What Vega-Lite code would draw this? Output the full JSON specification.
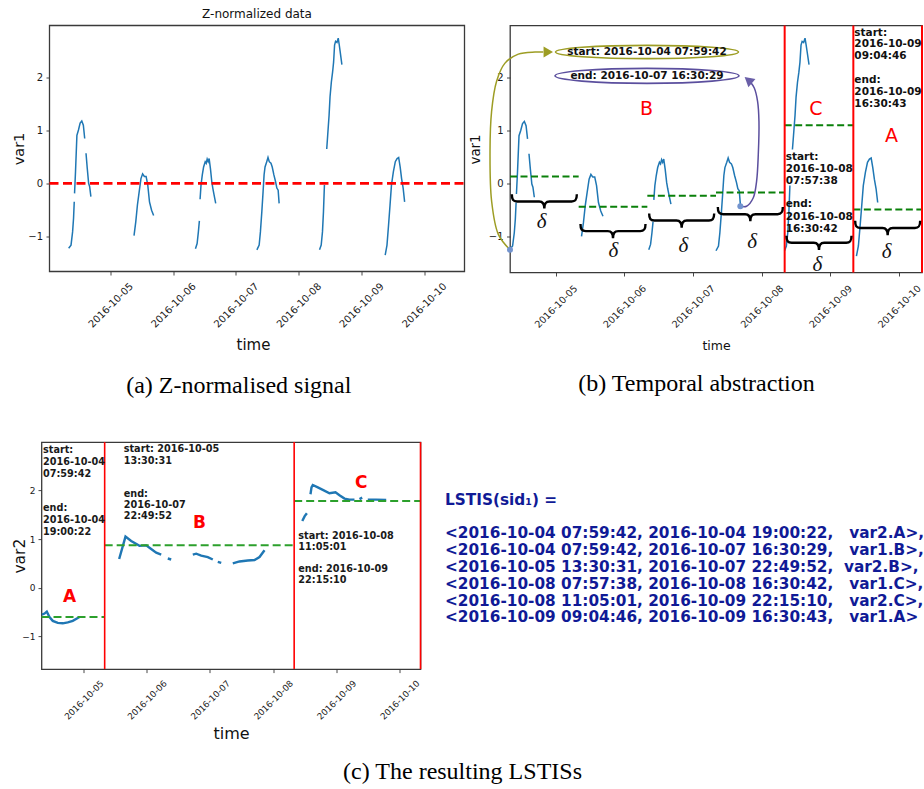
{
 "$schema": "https://vega.github.io/schema/vega-lite/v6.json",
 "background": "white",
 "padding": {"left": 11.5, "top": 7.5, "right": 0, "bottom": 0},
 "config": {
  "font": "DejaVu Sans",
  "view": {"stroke": "#3a3a3a", "strokeWidth": 1.3},
  "axis": {"grid": false, "domain": false, "tickSize": 3.5, "tickColor": "#333333", "tickWidth": 0.9, "labelColor": "#1a1a1a", "titleColor": "#111111", "titleFontWeight": "normal", "labelFont": "DejaVu Sans", "titleFont": "DejaVu Sans"},
  "title": {"font": "DejaVu Sans", "fontWeight": "normal", "color": "#111111"}
 },
 "datasets": {
  "v1": [
   {"t":"2016-10-04T07:59:42","v":-1.23,"s":"1a"},{"t":"2016-10-04T08:54","v":-1.17,"s":"1a"},{"t":"2016-10-04T09:30","v":-0.92,"s":"1a"},{"t":"2016-10-04T09:52","v":-0.66,"s":"1a"},{"t":"2016-10-04T10:08","v":-0.35,"s":"1a"},
   {"t":"2016-10-04T10:15","v":-0.19,"s":"1b"},{"t":"2016-10-04T10:37","v":0.22,"s":"1b"},{"t":"2016-10-04T11:09","v":0.91,"s":"1b"},{"t":"2016-10-04T11:45","v":1.01,"s":"1b"},{"t":"2016-10-04T12:23","v":1.14,"s":"1b"},{"t":"2016-10-04T13:01","v":1.18,"s":"1b"},{"t":"2016-10-04T13:37","v":1.10,"s":"1b"},{"t":"2016-10-04T14:08","v":0.85,"s":"1b"},
   {"t":"2016-10-04T14:38","v":0.57,"s":"1c"},{"t":"2016-10-04T15:07","v":0.28,"s":"1c"},{"t":"2016-10-04T15:38","v":0.0,"s":"1c"},{"t":"2016-10-04T16:01","v":-0.06,"s":"1c"},{"t":"2016-10-04T16:30","v":-0.25,"s":"1c"},
   {"t":"2016-10-05T09:00","v":-0.99,"s":"2"},{"t":"2016-10-05T09:40","v":-0.73,"s":"2"},{"t":"2016-10-05T10:18","v":-0.41,"s":"2"},{"t":"2016-10-05T10:58","v":-0.16,"s":"2"},{"t":"2016-10-05T11:39","v":0.09,"s":"2"},{"t":"2016-10-05T12:17","v":0.18,"s":"2"},{"t":"2016-10-05T12:57","v":0.13,"s":"2"},{"t":"2016-10-05T13:37","v":0.13,"s":"2"},{"t":"2016-10-05T14:15","v":-0.03,"s":"2"},{"t":"2016-10-05T14:55","v":-0.35,"s":"2"},{"t":"2016-10-05T15:43","v":-0.51,"s":"2"},{"t":"2016-10-05T16:30","v":-0.61,"s":"2"},
   {"t":"2016-10-06T08:30","v":-1.24,"s":"3a"},{"t":"2016-10-06T09:08","v":-1.14,"s":"3a"},{"t":"2016-10-06T09:37","v":-0.92,"s":"3a"},{"t":"2016-10-06T10:00","v":-0.71,"s":"3a"},
   {"t":"2016-10-06T10:16","v":-0.30,"s":"3b"},{"t":"2016-10-06T10:38","v":-0.03,"s":"3b"},{"t":"2016-10-06T11:07","v":0.16,"s":"3b"},{"t":"2016-10-06T11:37","v":0.31,"s":"3b"},{"t":"2016-10-06T12:14","v":0.41,"s":"3b"},{"t":"2016-10-06T12:37","v":0.38,"s":"3b"},{"t":"2016-10-06T12:59","v":0.46,"s":"3b"},{"t":"2016-10-06T13:22","v":0.41,"s":"3b"},{"t":"2016-10-06T13:44","v":0.47,"s":"3b"},{"t":"2016-10-06T14:14","v":0.28,"s":"3b"},{"t":"2016-10-06T14:45","v":0.03,"s":"3b"},{"t":"2016-10-06T15:08","v":-0.09,"s":"3b"},{"t":"2016-10-06T15:37","v":-0.22,"s":"3b"},{"t":"2016-10-06T16:15","v":-0.38,"s":"3b"},
   {"t":"2016-10-07T08:00","v":-1.26,"s":"4"},{"t":"2016-10-07T08:52","v":-1.17,"s":"4"},{"t":"2016-10-07T09:21","v":-0.92,"s":"4"},{"t":"2016-10-07T09:53","v":-0.54,"s":"4"},{"t":"2016-10-07T10:22","v":-0.16,"s":"4"},{"t":"2016-10-07T10:45","v":0.16,"s":"4"},{"t":"2016-10-07T11:07","v":0.31,"s":"4"},{"t":"2016-10-07T11:46","v":0.41,"s":"4"},{"t":"2016-10-07T12:15","v":0.49,"s":"4"},{"t":"2016-10-07T12:44","v":0.41,"s":"4"},{"t":"2016-10-07T13:23","v":0.38,"s":"4"},{"t":"2016-10-07T13:52","v":0.31,"s":"4"},{"t":"2016-10-07T14:30","v":0.16,"s":"4"},{"t":"2016-10-07T15:09","v":0.03,"s":"4"},{"t":"2016-10-07T15:38","v":-0.09,"s":"4"},{"t":"2016-10-07T16:08","v":-0.13,"s":"4"},{"t":"2016-10-07T16:30:29","v":-0.38,"s":"4"},
   {"t":"2016-10-08T07:57:38","v":-1.26,"s":"5a"},{"t":"2016-10-08T08:36","v":-1.17,"s":"5a"},{"t":"2016-10-08T09:05","v":-0.92,"s":"5a"},{"t":"2016-10-08T09:28","v":-0.54,"s":"5a"},{"t":"2016-10-08T09:50","v":-0.03,"s":"5a"},
   {"t":"2016-10-08T10:43","v":0.65,"s":"5b"},{"t":"2016-10-08T11:05","v":0.91,"s":"5b"},{"t":"2016-10-08T11:37","v":1.29,"s":"5b"},{"t":"2016-10-08T11:59","v":1.64,"s":"5b"},{"t":"2016-10-08T12:29","v":1.92,"s":"5b"},{"t":"2016-10-08T12:58","v":2.11,"s":"5b"},{"t":"2016-10-08T13:21","v":2.30,"s":"5b"},{"t":"2016-10-08T13:43","v":2.62,"s":"5b"},{"t":"2016-10-08T14:06","v":2.69,"s":"5b"},{"t":"2016-10-08T14:38","v":2.67,"s":"5b"},{"t":"2016-10-08T15:07","v":2.75,"s":"5b"},{"t":"2016-10-08T15:29","v":2.63,"s":"5b"},{"t":"2016-10-08T15:52","v":2.49,"s":"5b"},{"t":"2016-10-08T16:30:42","v":2.25,"s":"5b"},
   {"t":"2016-10-09T09:04:46","v":-1.36,"s":"6"},{"t":"2016-10-09T09:46","v":-1.17,"s":"6"},{"t":"2016-10-09T10:22","v":-0.79,"s":"6"},{"t":"2016-10-09T10:56","v":-0.41,"s":"6"},{"t":"2016-10-09T11:29","v":-0.03,"s":"6"},{"t":"2016-10-09T12:13","v":0.22,"s":"6"},{"t":"2016-10-09T12:57","v":0.41,"s":"6"},{"t":"2016-10-09T13:38","v":0.47,"s":"6"},{"t":"2016-10-09T14:14","v":0.49,"s":"6"},{"t":"2016-10-09T14:48","v":0.31,"s":"6"},{"t":"2016-10-09T15:21","v":0.09,"s":"6"},{"t":"2016-10-09T15:57","v":-0.09,"s":"6"},{"t":"2016-10-09T16:30:43","v":-0.35,"s":"6"}
  ],
  "v2": [
   {"t":"2016-10-04T08:10","v":-0.55,"s":"A"},{"t":"2016-10-04T09:08","v":-0.53,"s":"A"},{"t":"2016-10-04T10:01","v":-0.49,"s":"A"},{"t":"2016-10-04T11:02","v":-0.60,"s":"A"},{"t":"2016-10-04T12:17","v":-0.68,"s":"A"},{"t":"2016-10-04T14:11","v":-0.72,"s":"A"},{"t":"2016-10-04T16:05","v":-0.73,"s":"A"},{"t":"2016-10-04T17:59","v":-0.71,"s":"A"},{"t":"2016-10-04T19:53","v":-0.68,"s":"A"},{"t":"2016-10-04T21:47","v":-0.62,"s":"A"},{"t":"2016-10-04T22:26","v":-0.60,"s":"A"},
   {"t":"2016-10-05T13:30:31","v":0.59,"s":"B1"},{"t":"2016-10-05T15:55","v":1.05,"s":"B1"},{"t":"2016-10-05T18:05","v":0.96,"s":"B1"},{"t":"2016-10-05T21:14","v":0.86,"s":"B1"},{"t":"2016-10-05T23:47","v":0.87,"s":"B1"},{"t":"2016-10-06T01:02","v":0.82,"s":"B1"},{"t":"2016-10-06T03:35","v":0.72,"s":"B1"},{"t":"2016-10-06T05:29","v":0.68,"s":"B1"},
   {"t":"2016-10-06T07:59","v":0.60,"s":"B2"},{"t":"2016-10-06T09:17","v":0.58,"s":"B2"},
   {"t":"2016-10-06T17:29","v":0.68,"s":"B3"},{"t":"2016-10-06T18:47","v":0.70,"s":"B3"},{"t":"2016-10-06T20:41","v":0.66,"s":"B3"},{"t":"2016-10-06T23:11","v":0.63,"s":"B3"},{"t":"2016-10-07T01:05","v":0.58,"s":"B3"},
   {"t":"2016-10-07T02:59","v":0.53,"s":"B4"},{"t":"2016-10-07T04:17","v":0.51,"s":"B4"},
   {"t":"2016-10-07T08:41","v":0.50,"s":"B5"},{"t":"2016-10-07T11:14","v":0.54,"s":"B5"},{"t":"2016-10-07T14:23","v":0.56,"s":"B5"},{"t":"2016-10-07T16:56","v":0.57,"s":"B5"},{"t":"2016-10-07T18:50","v":0.63,"s":"B5"},{"t":"2016-10-07T20:44","v":0.77,"s":"B5"},
   {"t":"2016-10-08T11:05:01","v":1.37,"s":"C1"},{"t":"2016-10-08T12:00","v":1.47,"s":"C1"},{"t":"2016-10-08T12:50","v":1.53,"s":"C1"},
   {"t":"2016-10-08T14:12","v":1.92,"s":"C2"},{"t":"2016-10-08T14:35","v":2.06,"s":"C2"},{"t":"2016-10-08T15:05","v":2.11,"s":"C2"},{"t":"2016-10-08T16:59","v":2.06,"s":"C2"},{"t":"2016-10-08T18:53","v":2.01,"s":"C2"},{"t":"2016-10-08T21:25","v":1.94,"s":"C2"},{"t":"2016-10-08T23:42","v":1.96,"s":"C2"},{"t":"2016-10-09T01:13","v":1.90,"s":"C2"},{"t":"2016-10-09T03:07","v":1.83,"s":"C2"},{"t":"2016-10-09T05:01","v":1.81,"s":"C2"},{"t":"2016-10-09T06:55","v":1.81,"s":"C2"},
   {"t":"2016-10-09T08:49","v":1.82,"s":"C3"},{"t":"2016-10-09T09:51","v":1.85,"s":"C3"},
   {"t":"2016-10-09T11:58","v":1.81,"s":"C4"},{"t":"2016-10-09T15:10","v":1.81,"s":"C4"},{"t":"2016-10-09T18:58","v":1.80,"s":"C4"}
  ]
 },
 "spacing": 41.6,
 "vconcat": [
  {
   "spacing": 0.5,
   "hconcat": [
    {
     "title": {"text": "(a) Z-normalised signal", "orient": "bottom", "anchor": "middle", "font": "Liberation Serif", "fontSize": 24, "fontWeight": "normal", "color": "#000000", "offset": 21.5},
     "vconcat": [
      {
       "width": 423, "height": 246,
       "view": {"stroke": null},
       "title": {"text": "Z-normalized data", "fontSize": 12, "offset": 4, "frame": "group", "anchor": "middle", "dx": 4},
       "layer": [
        {
         "data": {"values": [{"t":"2016-10-04T00:40","t2":"2016-10-10T15:25","v":-1.67,"v2":2.99}]},
         "mark": {"type": "rect", "filled": false, "color": "#3a3a3a", "strokeWidth": 1.3},
         "encoding": {
          "x": {"field": "t", "type": "temporal", "scale": {"domain": [{"year":2016,"month":10,"date":3,"hours":21,"minutes":36,"seconds":24},{"year":2016,"month":10,"date":10,"hours":15,"minutes":25}]},
                "axis": {"title": "time", "values": [{"year":2016,"month":10,"date":5},{"year":2016,"month":10,"date":6},{"year":2016,"month":10,"date":7},{"year":2016,"month":10,"date":8},{"year":2016,"month":10,"date":9},{"year":2016,"month":10,"date":10}], "format": "%Y-%m-%d", "labelAngle": -45, "labelAlign": "center", "labelBaseline": "middle", "labelPadding": 30, "labelFontSize": 10, "labelOverlap": false, "labelFlush": false, "titleFontSize": 15, "titlePadding": 8}},
          "x2": {"field": "t2"},
          "y": {"field": "v", "type": "quantitative", "scale": {"domain": [-1.67, 2.99], "nice": false, "zero": false},
                "axis": {"title": "var1", "values": [-1, 0, 1, 2], "format": "d", "offset": -8, "labelFontSize": 10, "labelPadding": 3.5, "titleFontSize": 14.5, "titlePadding": 1}},
          "y2": {"field": "v2"}
         }
        },
        {
         "data": {"name": "v1"},
         "mark": {"type": "line", "color": "#1f77b4", "strokeWidth": 1.5},
         "encoding": {
          "x": {"field": "t", "type": "temporal"},
          "y": {"field": "v", "type": "quantitative"},
          "detail": {"field": "s", "type": "nominal"}
         }
        },
        {
         "data": {"values": [{"t":"2016-10-04T00:40","t2":"2016-10-10T15:25","v":0}]},
         "mark": {"type": "rule", "color": "#ff0000", "strokeWidth": 2.6, "strokeDash": [9, 4.5]},
         "encoding": {"x": {"field": "t", "type": "temporal"}, "x2": {"field": "t2"}, "y": {"field": "v", "type": "quantitative"}}
        }
       ]
      }
     ]
    },
    {
     "title": {"text": "(b) Temporal abstraction", "orient": "bottom", "anchor": "middle", "font": "Liberation Serif", "fontSize": 24, "fontWeight": "normal", "color": "#000000", "offset": 19},
     "vconcat": [
      {
       "width": 412, "height": 247,
       "layer": [
        {
         "data": {"name": "v1"},
         "mark": {"type": "line", "color": "#1f77b4", "strokeWidth": 1.5},
         "encoding": {
          "x": {"field": "t", "type": "temporal", "scale": {"domain": [{"year":2016,"month":10,"date":4,"hours":8},{"year":2016,"month":10,"date":10,"hours":8}]},
                "axis": {"title": "time", "values": [{"year":2016,"month":10,"date":5},{"year":2016,"month":10,"date":6},{"year":2016,"month":10,"date":7},{"year":2016,"month":10,"date":8},{"year":2016,"month":10,"date":9},{"year":2016,"month":10,"date":10}], "format": "%Y-%m-%d", "labelAngle": -45, "labelAlign": "center", "labelBaseline": "middle", "labelPadding": 30.2, "labelFontSize": 9.6, "labelOverlap": false, "labelFlush": false, "titleFontSize": 12.5, "titlePadding": 10.3}},
          "y": {"field": "v", "type": "quantitative", "scale": {"domain": [-1.67, 2.99], "nice": false, "zero": false},
                "axis": {"title": "var1", "values": [-1, 0, 1, 2], "format": "d", "labelFontSize": 10, "labelPadding": 3.5, "titleFontSize": 13.3, "titlePadding": 6.2}},
          "detail": {"field": "s", "type": "nominal"}
         }
        },
        {
         "data": {"values": [
          {"t":"2016-10-04T08:00","t2":"2016-10-05T08:00","v":0.14},
          {"t":"2016-10-05T08:00","t2":"2016-10-06T08:00","v":-0.43},
          {"t":"2016-10-06T08:00","t2":"2016-10-07T08:00","v":-0.22},
          {"t":"2016-10-07T08:00","t2":"2016-10-08T08:00","v":-0.16},
          {"t":"2016-10-08T08:00","t2":"2016-10-09T08:00","v":1.11},
          {"t":"2016-10-09T08:00","t2":"2016-10-10T08:00","v":-0.48}
         ]},
         "mark": {"type": "rule", "color": "#0a800a", "strokeWidth": 2, "strokeDash": [7, 3.5]},
         "encoding": {"x": {"field": "t", "type": "temporal"}, "x2": {"field": "t2"}, "y": {"field": "v", "type": "quantitative"}}
        },
        {
         "data": {"values": [{"t":"2016-10-08T08:00"},{"t":"2016-10-09T08:00"},{"t":"2016-10-10T08:00"}]},
         "mark": {"type": "rule", "color": "#ff0000", "strokeWidth": 2},
         "encoding": {"x": {"field": "t", "type": "temporal"}}
        },
        {
         "data": {"values": [
          {"t":"2016-10-04T20:00","v":-0.33},{"t":"2016-10-05T20:00","v":-0.89},{"t":"2016-10-06T20:00","v":-0.69},
          {"t":"2016-10-07T20:00","v":-0.57},{"t":"2016-10-08T20:00","v":-1.11},{"t":"2016-10-09T20:00","v":-0.83}
         ]},
         "mark": {"type": "point", "shape": "M -1 -0.22 C -1 -0.06 -0.96 0 -0.84 0 L -0.16 0 C -0.05 0 0 0.06 0 0.22 C 0 0.06 0.05 0 0.16 0 L 0.84 0 C 0.96 0 1 -0.06 1 -0.22", "size": 4225, "filled": false, "color": "#000000", "strokeWidth": 2.4, "opacity": 1},
         "encoding": {"x": {"field": "t", "type": "temporal"}, "y": {"field": "v", "type": "quantitative"}}
        },
        {
         "data": {"values": [
          {"t":"2016-10-04T19:03","v":-0.72},{"t":"2016-10-05T20:06","v":-1.27},{"t":"2016-10-06T20:34","v":-1.17},
          {"t":"2016-10-07T20:40","v":-1.09},{"t":"2016-10-08T19:24","v":-1.52},{"t":"2016-10-09T19:37","v":-1.28}
         ]},
         "mark": {"type": "text", "text": "δ", "font": "Liberation Serif", "fontStyle": "italic", "fontSize": 21, "color": "#111111", "align": "center", "baseline": "middle"},
         "encoding": {"x": {"field": "t", "type": "temporal"}, "y": {"field": "v", "type": "quantitative"}}
        },
        {
         "data": {"values": [
          {"i":0,"t":"2016-10-04T07:59:42","v":-1.24},{"i":1,"t":"2016-10-04T03:55","v":-0.95},{"i":2,"t":"2016-10-04T01:34","v":-0.32},
          {"i":3,"t":"2016-10-04T01:01","v":0.62},{"i":4,"t":"2016-10-04T01:34","v":1.37},{"i":5,"t":"2016-10-04T03:19","v":1.94},
          {"i":6,"t":"2016-10-04T06:15","v":2.28},{"i":7,"t":"2016-10-04T10:54","v":2.45},{"i":8,"t":"2016-10-04T16:44","v":2.49},{"i":9,"t":"2016-10-04T19:38","v":2.49}
         ]},
         "mark": {"type": "line", "color": "#9d9d24", "strokeWidth": 1.5, "interpolate": "catmull-rom"},
         "encoding": {"x": {"field": "t", "type": "temporal"}, "y": {"field": "v", "type": "quantitative"}, "order": {"field": "i", "type": "quantitative"}}
        },
        {
         "data": {"values": [
          {"i":0,"t":"2016-10-07T16:30:29","v":-0.42},{"i":1,"t":"2016-10-07T18:41","v":-0.42},{"i":2,"t":"2016-10-07T21:02","v":-0.26},
          {"i":3,"t":"2016-10-07T22:11","v":0.05},{"i":4,"t":"2016-10-07T22:47","v":0.56},{"i":5,"t":"2016-10-07T23:01","v":1.18},
          {"i":6,"t":"2016-10-07T22:32","v":1.56},{"i":7,"t":"2016-10-07T21:23","v":1.81},{"i":8,"t":"2016-10-07T20:14","v":1.91}
         ]},
         "mark": {"type": "line", "color": "#5b4f9e", "strokeWidth": 1.5, "interpolate": "catmull-rom"},
         "encoding": {"x": {"field": "t", "type": "temporal"}, "y": {"field": "v", "type": "quantitative"}, "order": {"field": "i", "type": "quantitative"}}
        },
        {
         "data": {"values": [{"t":"2016-10-04T21:23","v":2.49}]},
         "mark": {"type": "point", "shape": "triangle-right", "size": 120, "filled": true, "color": "#9d9d24", "opacity": 1},
         "encoding": {"x": {"field": "t", "type": "temporal"}, "y": {"field": "v", "type": "quantitative"}}
        },
        {
         "data": {"values": [{"t":"2016-10-07T19:17","v":1.96}]},
         "mark": {"type": "point", "shape": "triangle-left", "size": 120, "filled": true, "color": "#6a5fa8", "opacity": 1, "angle": 40},
         "encoding": {"x": {"field": "t", "type": "temporal"}, "y": {"field": "v", "type": "quantitative"}}
        },
        {
         "data": {"values": [{"t":"2016-10-04T07:59:42","v":-1.24},{"t":"2016-10-07T16:30:29","v":-0.42}]},
         "mark": {"type": "point", "shape": "circle", "size": 36, "filled": true, "color": "#7394cf", "opacity": 1},
         "encoding": {"x": {"field": "t", "type": "temporal"}, "y": {"field": "v", "type": "quantitative"}}
        },
        {
         "data": {"values": [{"t":"2016-10-06T07:53","v":2.49}]},
         "mark": {"type": "point", "shape": "M 1 0 C 1 0.0402 0.5523 0.0727 0 0.0727 C -0.5523 0.0727 -1 0.0402 -1 0 C -1 -0.0402 -0.5523 -0.0727 0 -0.0727 C 0.5523 -0.0727 1 -0.0402 1 0 Z", "size": 33489, "filled": false, "color": "#9d9d24", "strokeWidth": 1.6, "opacity": 1},
         "encoding": {"x": {"field": "t", "type": "temporal"}, "y": {"field": "v", "type": "quantitative"}}
        },
        {
         "data": {"values": [{"t":"2016-10-06T07:53","v":2.04}]},
         "mark": {"type": "point", "shape": "M 1 0 C 1 0.045 0.5523 0.0815 0 0.0815 C -0.5523 0.0815 -1 0.045 -1 0 C -1 -0.045 -0.5523 -0.0815 0 -0.0815 C 0.5523 -0.0815 1 -0.045 1 0 Z", "size": 33856, "filled": false, "color": "#5b4f9e", "strokeWidth": 1.6, "opacity": 1},
         "encoding": {"x": {"field": "t", "type": "temporal"}, "y": {"field": "v", "type": "quantitative"}}
        },
        {
         "data": {"values": [{"t":"2016-10-06T07:53","v":2.49,"txt":"start: 2016-10-04 07:59:42"},{"t":"2016-10-06T07:53","v":2.04,"txt":"end: 2016-10-07 16:30:29"}]},
         "mark": {"type": "text", "font": "DejaVu Sans", "fontWeight": "bold", "fontSize": 10.5, "color": "#111111", "align": "center", "baseline": "middle"},
         "encoding": {"x": {"field": "t", "type": "temporal"}, "y": {"field": "v", "type": "quantitative"}, "text": {"field": "txt"}}
        },
        {
         "data": {"values": [
          {"t":"2016-10-08T08:00","v":0.506,"txt":"start:"},
          {"t":"2016-10-08T08:00","v":0.274,"txt":"2016-10-08"},
          {"t":"2016-10-08T08:00","v":0.047,"txt":"07:57:38"},
          {"t":"2016-10-08T08:00","v":-0.387,"txt":"end:"},
          {"t":"2016-10-08T08:00","v":-0.621,"txt":"2016-10-08"},
          {"t":"2016-10-08T08:00","v":-0.853,"txt":"16:30:42"},
          {"t":"2016-10-09T08:00","v":2.851,"txt":"start:"},
          {"t":"2016-10-09T08:00","v":2.632,"txt":"2016-10-09"},
          {"t":"2016-10-09T08:00","v":2.411,"txt":"09:04:46"},
          {"t":"2016-10-09T08:00","v":1.958,"txt":"end:"},
          {"t":"2016-10-09T08:00","v":1.738,"txt":"2016-10-09"},
          {"t":"2016-10-09T08:00","v":1.511,"txt":"16:30:43"}
         ]},
         "mark": {"type": "text", "font": "DejaVu Sans", "fontWeight": "bold", "fontSize": 10.5, "color": "#111111", "align": "left", "baseline": "middle", "dx": 1},
         "encoding": {"x": {"field": "t", "type": "temporal"}, "y": {"field": "v", "type": "quantitative"}, "text": {"field": "txt"}}
        },
        {
         "data": {"values": [{"t":"2016-10-06T07:45","v":1.41,"txt":"B"},{"t":"2016-10-08T18:57","v":1.42,"txt":"C"},{"t":"2016-10-09T21:22","v":0.90,"txt":"A"}]},
         "mark": {"type": "text", "font": "DejaVu Sans", "fontSize": 19, "color": "#ff0000", "align": "center", "baseline": "middle"},
         "encoding": {"x": {"field": "t", "type": "temporal"}, "y": {"field": "v", "type": "quantitative"}, "text": {"field": "txt"}}
        }
       ]
      }
     ]
    }
   ]
  },
  {
   "spacing": 22.5,
   "title": {"text": "(c) The resulting LSTISs", "orient": "bottom", "anchor": "middle", "font": "Liberation Serif", "fontSize": 24, "fontWeight": "normal", "color": "#000000", "offset": 18.5, "dx": -6},
   "hconcat": [
    {
     "width": 379, "height": 227,
     "layer": [
      {
       "data": {"name": "v2"},
       "mark": {"type": "line", "color": "#1f77b4", "strokeWidth": 2.4},
       "encoding": {
        "x": {"field": "t", "type": "temporal", "scale": {"domain": [{"year":2016,"month":10,"date":4,"hours":8},{"year":2016,"month":10,"date":10,"hours":8}]},
              "axis": {"title": "time", "values": [{"year":2016,"month":10,"date":5},{"year":2016,"month":10,"date":6},{"year":2016,"month":10,"date":7},{"year":2016,"month":10,"date":8},{"year":2016,"month":10,"date":9},{"year":2016,"month":10,"date":10}], "format": "%Y-%m-%d", "labelAngle": -45, "labelAlign": "center", "labelBaseline": "middle", "labelPadding": 27, "labelFontSize": 8.8, "labelOverlap": false, "labelFlush": false, "titleFontSize": 16, "titlePadding": 4}},
        "y": {"field": "v", "type": "quantitative", "scale": {"domain": [-1.67, 2.99], "nice": false, "zero": false},
              "axis": {"title": "var2", "values": [-1, 0, 1, 2], "format": "d", "labelFontSize": 9, "labelPadding": 3, "titleFontSize": 15.5, "titlePadding": -6}},
        "detail": {"field": "s", "type": "nominal"}
       }
      },
      {
       "data": {"values": [
        {"t":"2016-10-04T08:00","t2":"2016-10-05T08:00","v":-0.60},
        {"t":"2016-10-05T08:00","t2":"2016-10-08T08:00","v":0.87},
        {"t":"2016-10-08T08:00","t2":"2016-10-10T08:00","v":1.78}
       ]},
       "mark": {"type": "rule", "color": "#2ca02c", "strokeWidth": 2, "strokeDash": [8, 4]},
       "encoding": {"x": {"field": "t", "type": "temporal"}, "x2": {"field": "t2"}, "y": {"field": "v", "type": "quantitative"}}
      },
      {
       "data": {"values": [{"t":"2016-10-05T08:00"},{"t":"2016-10-08T08:00"},{"t":"2016-10-10T08:00"}]},
       "mark": {"type": "rule", "color": "#ff0000", "strokeWidth": 1.6},
       "encoding": {"x": {"field": "t", "type": "temporal"}}
      },
      {
       "data": {"values": [
        {"t":"2016-10-04T08:00","v":2.827,"txt":"start:"},
        {"t":"2016-10-04T08:00","v":2.581,"txt":"2016-10-04"},
        {"t":"2016-10-04T08:00","v":2.334,"txt":"07:59:42"},
        {"t":"2016-10-04T08:00","v":1.628,"txt":"end:"},
        {"t":"2016-10-04T08:00","v":1.382,"txt":"2016-10-04"},
        {"t":"2016-10-04T08:00","v":1.144,"txt":"19:00:22"},
        {"t":"2016-10-05T14:40","v":2.839,"txt":"start: 2016-10-05"},
        {"t":"2016-10-05T14:40","v":2.601,"txt":"13:30:31"},
        {"t":"2016-10-05T14:40","v":1.930,"txt":"end:"},
        {"t":"2016-10-05T14:40","v":1.704,"txt":"2016-10-07"},
        {"t":"2016-10-05T14:40","v":1.478,"txt":"22:49:52"},
        {"t":"2016-10-08T09:00","v":1.061,"txt":"start: 2016-10-08"},
        {"t":"2016-10-08T09:00","v":0.836,"txt":"11:05:01"},
        {"t":"2016-10-08T09:00","v":0.390,"txt":"end: 2016-10-09"},
        {"t":"2016-10-08T09:00","v":0.164,"txt":"22:15:10"}
       ]},
       "mark": {"type": "text", "font": "DejaVu Sans", "fontWeight": "bold", "fontSize": 9.7, "color": "#1a1a1a", "align": "left", "baseline": "middle", "dx": 1.5},
       "encoding": {"x": {"field": "t", "type": "temporal"}, "y": {"field": "v", "type": "quantitative"}, "text": {"field": "txt"}}
      },
      {
       "data": {"values": [{"t":"2016-10-04T18:38","v":-0.19,"txt":"A"},{"t":"2016-10-06T20:02","v":1.32,"txt":"B"},{"t":"2016-10-09T09:28","v":2.16,"txt":"C"}]},
       "mark": {"type": "text", "font": "DejaVu Sans", "fontWeight": "bold", "fontSize": 17, "color": "#ff0000", "align": "center", "baseline": "middle"},
       "encoding": {"x": {"field": "t", "type": "temporal"}, "y": {"field": "v", "type": "quantitative"}, "text": {"field": "txt"}}
      }
     ]
    },
    {
     "width": 480, "height": 227,
     "view": {"stroke": null},
     "data": {"values": [
      {"r":0,"txt":"LSTIS(sid₁) ="},
      {"r":2,"txt":"<2016-10-04 07:59:42, 2016-10-04 19:00:22,\u00a0\u00a0\u00a0var2.A>,"},
      {"r":3,"txt":"<2016-10-04 07:59:42, 2016-10-07 16:30:29,\u00a0\u00a0\u00a0var1.B>,"},
      {"r":4,"txt":"<2016-10-05 13:30:31, 2016-10-07 22:49:52,\u00a0\u00a0var2.B>,"},
      {"r":5,"txt":"<2016-10-08 07:57:38, 2016-10-08 16:30:42,\u00a0\u00a0\u00a0var1.C>,"},
      {"r":6,"txt":"<2016-10-08 11:05:01, 2016-10-09 22:15:10,\u00a0\u00a0\u00a0var2.C>,"},
      {"r":7,"txt":"<2016-10-09 09:04:46, 2016-10-09 16:30:43,\u00a0\u00a0\u00a0var1.A>"}
     ]},
     "mark": {"type": "text", "font": "DejaVu Sans", "fontWeight": "bold", "fontSize": 15.3, "color": "#101a96", "align": "left", "baseline": "middle", "clip": true},
     "encoding": {
      "x": {"datum": 0, "type": "quantitative", "scale": {"domain": [0, 1]}, "axis": null},
      "y": {"field": "r", "type": "quantitative", "scale": {"domain": [-3.437, 10.08], "reverse": true, "nice": false, "zero": false}, "axis": null},
      "text": {"field": "txt"}
     }
    }
   ]
  }
 ]
}
